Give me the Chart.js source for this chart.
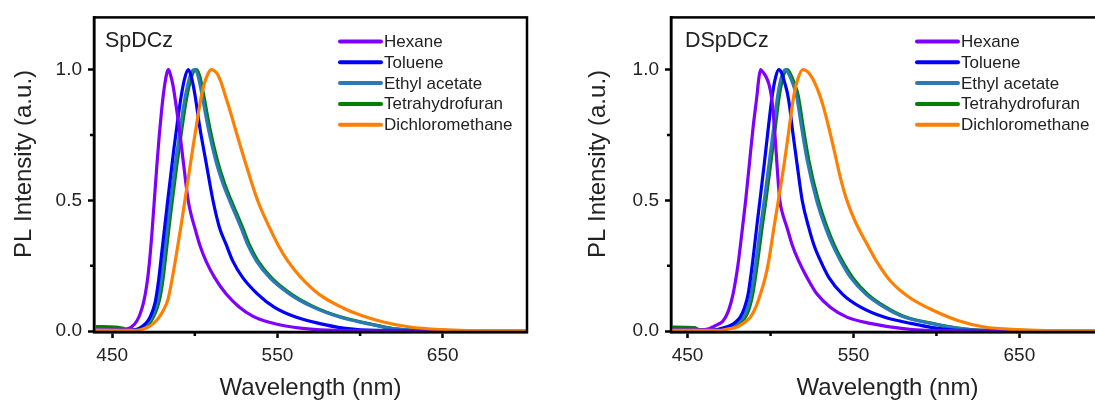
<!DOCTYPE html>
<html>
<head>
<meta charset="utf-8">
<script src="https://cdn.jsdelivr.net/npm/chart.js@4.4.1/dist/chart.umd.min.js"></script>
<style>
  html, body { margin: 0; padding: 0; background: #fff; overflow: hidden; }
  #wrap { position: relative; width: 1095px; height: 403px; overflow: hidden; }
  canvas { position: absolute; top: 0; }
  #chartA { left: 0; }
  #chartB { left: 577px; }
</style>
</head>
<body>
<div id="wrap">
  <canvas id="chartA" width="560" height="403"></canvas>
  <canvas id="chartB" width="560" height="403"></canvas>
</div>
<script>
// solvents, in legend order
const solvents = ['Hexane', 'Toluene', 'Ethyl acetate', 'Tetrahydrofuran', 'Dichloromethane'];
const solventColors = ['#8000FF', '#0000FF', '#2A7AB8', '#008000', '#FF7F00'];
const drawOrder = [1, 2, 3, 4, 0]; // orange on top, green under teal

const xTicks = [450, 550, 650];
const xMinorTicks = [500, 600];
const yTicks = [0, 0.5, 1.0];
const yMinorTicks = [0.25, 0.75];

// SpDCz, normalized PL: [wavelength (nm), intensity]
const spdczHexane = [[440,0.004],[456,0.004],[459,0.008],[462,0.018],[465,0.04],[467,0.068],[469,0.11],[471,0.18],[472.5,0.26],[474,0.37],[475.5,0.5],[477,0.63],[478.5,0.75],[480,0.85],[481.5,0.93],[483,0.985],[484,1.0],[485.3,0.98],[486.8,0.94],[488.5,0.87],[490.5,0.78],[493,0.65],[496,0.5],[498,0.44],[500,0.395],[503,0.33],[507,0.265],[512,0.205],[519,0.142],[527,0.092],[535,0.058],[545,0.034],[555,0.02],[565,0.011],[580,0.004],[600,0.001],[701,0.001]];
const spdczToluene = [[440,0.003],[462,0.004],[466,0.01],[470,0.028],[473,0.055],[476,0.11],[478.2,0.2],[480,0.3],[481.8,0.4],[483.6,0.5],[485.5,0.6],[487.4,0.7],[489.5,0.8],[491.8,0.9],[493.8,0.965],[496,1.0],[497.8,0.975],[500,0.907],[503,0.78],[506.6,0.653],[511,0.5],[515,0.395],[519,0.331],[523,0.268],[529,0.205],[538,0.142],[548,0.092],[561,0.054],[575,0.03],[590,0.012],[610,0.003],[701,0.001]];
const spdczEthylAcetate = [[440,0.004],[462,0.004],[466,0.008],[469,0.018],[472,0.035],[474,0.055],[476,0.085],[478,0.13],[480,0.21],[482,0.32],[484,0.43],[486,0.53],[488,0.63],[490,0.72],[492,0.81],[494,0.89],[496,0.95],[498,0.99],[500,1.0],[502,0.975],[504,0.915],[508,0.78],[513,0.645],[517,0.565],[521,0.5],[528,0.395],[532,0.331],[537.3,0.268],[545.3,0.205],[557.4,0.142],[571.5,0.092],[587.6,0.054],[603.7,0.03],[620,0.01],[635,0.003],[701,0.001]];
const spdczThf = [[440,0.018],[452,0.016],[456,0.012],[460,0.006],[466,0.006],[470,0.017],[473,0.034],[475,0.055],[477,0.085],[479,0.13],[481,0.21],[483,0.32],[485,0.43],[487,0.53],[489,0.63],[491,0.72],[493,0.81],[495,0.89],[497,0.95],[499,0.99],[501,1.0],[503,0.975],[505,0.915],[509,0.78],[514,0.645],[518,0.565],[522,0.5],[529,0.395],[533,0.331],[538.3,0.268],[546.3,0.205],[558.4,0.142],[572.5,0.092],[588.5,0.054],[604.5,0.03],[620,0.01],[636,0.003],[701,0.001]];
const spdczDcm = [[440,0.003],[465,0.003],[468,0.007],[471.8,0.016],[475,0.03],[478,0.05],[481,0.08],[483.8,0.123],[486.3,0.2],[489,0.3],[491.6,0.4],[494,0.5],[496.4,0.6],[498.8,0.7],[501.3,0.8],[504,0.9],[507,0.97],[510,1.0],[512,0.995],[514,0.98],[516,0.95],[518,0.91],[521,0.85],[524.2,0.78],[530.2,0.653],[538,0.5],[545.3,0.395],[550.3,0.331],[556.3,0.268],[564,0.207],[575.5,0.14],[590,0.088],[600,0.062],[614,0.035],[630,0.016],[650,0.006],[670,0.002],[701,0.002]];

// DSpDCz
const dspdczHexane = [[440,0.004],[458,0.004],[462,0.008],[465,0.016],[468,0.025],[471,0.037],[473,0.055],[475,0.085],[477.4,0.142],[480.3,0.25],[482.8,0.38],[485,0.5],[487.4,0.65],[489.5,0.78],[491.8,0.9],[493,0.97],[494,1.0],[495.5,0.99],[497.5,0.97],[499,0.945],[500.2,0.91],[501.3,0.86],[503,0.72],[504.4,0.59],[505.6,0.5],[507,0.455],[510,0.395],[513,0.331],[517,0.268],[522,0.205],[528,0.142],[536,0.092],[546,0.054],[560,0.03],[580,0.01],[600,0.002],[701,0.001]];
const dspdczToluene = [[440,0.003],[466,0.004],[470,0.01],[475.8,0.022],[479,0.035],[481.8,0.055],[484.3,0.09],[486.5,0.142],[489.3,0.27],[491.7,0.4],[493.6,0.5],[496.4,0.65],[498.7,0.78],[501,0.9],[503,0.97],[505,1.0],[506.5,0.99],[508.3,0.955],[510,0.915],[511.5,0.86],[513,0.78],[515.7,0.653],[519.1,0.5],[523.1,0.395],[526.1,0.331],[530.2,0.268],[535.2,0.205],[543.3,0.142],[554.3,0.092],[568.4,0.054],[584.5,0.03],[600,0.012],[615,0.003],[701,0.001]];
const dspdczEthylAcetate = [[440,0.005],[466,0.005],[472,0.01],[476.8,0.022],[480.5,0.035],[483.8,0.055],[486.3,0.09],[488.3,0.142],[491.3,0.27],[494,0.4],[496.2,0.5],[499.3,0.65],[501.9,0.78],[504.3,0.9],[506.5,0.97],[509,1.0],[511.3,0.98],[513.5,0.945],[515.7,0.9],[518.7,0.78],[522.1,0.653],[527.8,0.5],[533.2,0.395],[537.3,0.331],[542.3,0.268],[548.3,0.205],[557.4,0.142],[568.4,0.092],[580.5,0.054],[596.6,0.03],[612,0.012],[630,0.003],[701,0.001]];
const dspdczThf = [[440,0.016],[454,0.014],[457,0.006],[466,0.005],[472,0.01],[478,0.022],[482,0.035],[485,0.055],[487.3,0.09],[489.3,0.142],[492.3,0.27],[495,0.4],[497.2,0.5],[500.3,0.65],[502.9,0.78],[505.3,0.9],[507.5,0.97],[510,1.0],[512.3,0.98],[514.5,0.945],[516.7,0.9],[519.7,0.78],[523.1,0.653],[528.8,0.5],[534.2,0.395],[538.3,0.331],[543.3,0.268],[549.5,0.205],[558.5,0.142],[569.5,0.092],[581.5,0.054],[597.5,0.03],[613,0.012],[631,0.003],[701,0.001]];
const dspdczDcm = [[440,0.003],[470,0.003],[474,0.008],[479.8,0.016],[483.5,0.03],[487.9,0.054],[491,0.09],[493.9,0.142],[496.6,0.2],[498.9,0.268],[502,0.395],[504.7,0.5],[508.5,0.653],[511.3,0.78],[514,0.9],[516.5,0.965],[519.5,1.0],[522,0.994],[524.5,0.975],[527,0.945],[529.8,0.9],[532,0.855],[534.5,0.795],[538.6,0.685],[542,0.59],[545.5,0.51],[549,0.45],[553.3,0.39],[558.4,0.33],[564.4,0.262],[572.5,0.19],[584,0.128],[598.6,0.078],[612.8,0.041],[628.9,0.016],[650,0.006],[670,0.002],[701,0.002]];

const textColor = '#222';
const fontFamily = '"Liberation Sans", Arial, sans-serif';
Chart.defaults.font.family = fontFamily;
Chart.defaults.color = textColor;

// frame on top/right, short minor ticks, y title, panel name and legend inside the plot
const panelDecor = {
  id: 'panelDecor',
  afterDatasetsDraw(chart, args, opts) {
    const { ctx, chartArea: a, scales: { x, y } } = chart;
    ctx.save();
    ctx.strokeStyle = '#000';
    ctx.lineWidth = 2.5;
    ctx.strokeRect(a.left, a.top, a.right - a.left, a.bottom - a.top);

    ctx.beginPath();
    xMinorTicks.forEach(v => {
      const px = x.getPixelForValue(v);
      ctx.moveTo(px, a.bottom);
      ctx.lineTo(px, a.bottom + 4);
    });
    yMinorTicks.forEach(v => {
      const py = y.getPixelForValue(v);
      ctx.moveTo(a.left, py);
      ctx.lineTo(a.left - 4, py);
    });
    ctx.stroke();

    ctx.fillStyle = textColor;

    // y axis title
    ctx.save();
    ctx.translate(opts.yTitleX, 164);
    ctx.rotate(-Math.PI / 2);
    ctx.font = '24px ' + fontFamily;
    ctx.textAlign = 'center';
    ctx.textBaseline = 'middle';
    ctx.fillText('PL Intensity (a.u.)', 0, 0);
    ctx.restore();

    ctx.textBaseline = 'alphabetic';
    ctx.font = '21.5px ' + fontFamily;
    ctx.fillText(opts.label, a.left + opts.labelDx, 47);

    ctx.font = '17px ' + fontFamily;
    chart.data.datasets.forEach((ds, i) => {
      const ly = 41.5 + i * 20.8;
      ctx.strokeStyle = ds.borderColor;
      ctx.lineWidth = 4;
      ctx.lineCap = 'round';
      ctx.beginPath();
      ctx.moveTo(a.left + 246, ly);
      ctx.lineTo(a.left + 287, ly);
      ctx.stroke();
      ctx.fillStyle = textColor;
      ctx.fillText(ds.label, a.left + 290, ly + 5.5);
    });
    ctx.restore();
  }
};

function makePanel(canvasId, label, labelDx, yTitleX, series, xMin) {
  const datasets = series.map((data, i) => ({
    label: solvents[i],
    data: data,
    borderColor: solventColors[i],
    borderWidth: 3.2,
    pointRadius: 0,
    cubicInterpolationMode: 'monotone',
    order: drawOrder[i]
  }));

  return new Chart(document.getElementById(canvasId), {
    type: 'line',
    data: { datasets },
    options: {
      responsive: false,
      animation: false,
      layout: { padding: { left: 0, top: 17, right: 33, bottom: 0 } },
      plugins: {
        legend: { display: false },
        tooltip: { enabled: false },
        panelDecor: { label, labelDx, yTitleX }
      },
      scales: {
        x: {
          type: 'linear',
          min: xMin,
          max: 701,
          afterBuildTicks: s => { s.ticks = xTicks.map(v => ({ value: v })); },
          afterFit: s => { s.height = 71; },
          grid: { drawOnChartArea: false, tickLength: 6, tickWidth: 2.5, tickColor: '#000' },
          border: { display: true, color: '#000', width: 2.5 },
          ticks: { padding: 6, maxRotation: 0, font: { size: 19 }, color: textColor },
          title: { display: true, text: 'Wavelength (nm)', font: { size: 24 }, color: textColor, padding: { top: 0, bottom: 0 } }
        },
        y: {
          min: -0.003,
          max: 1.2,
          afterBuildTicks: s => { s.ticks = yTicks.map(v => ({ value: v })); },
          afterFit: s => { s.width = 94; },
          grid: { drawOnChartArea: false, tickLength: 6, tickWidth: 2.5, tickColor: '#000' },
          border: { display: true, color: '#000', width: 2.5 },
          ticks: { padding: 6, font: { size: 19 }, color: textColor, callback: v => v.toFixed(1) }
        }
      }
    },
    plugins: [panelDecor]
  });
}

makePanel('chartA', 'SpDCz', 11, 24,
  [spdczHexane, spdczToluene, spdczEthylAcetate, spdczThf, spdczDcm], 439);
makePanel('chartB', 'DSpDCz', 14, 21,
  [dspdczHexane, dspdczToluene, dspdczEthylAcetate, dspdczThf, dspdczDcm], 440);
</script>
</body>
</html>
